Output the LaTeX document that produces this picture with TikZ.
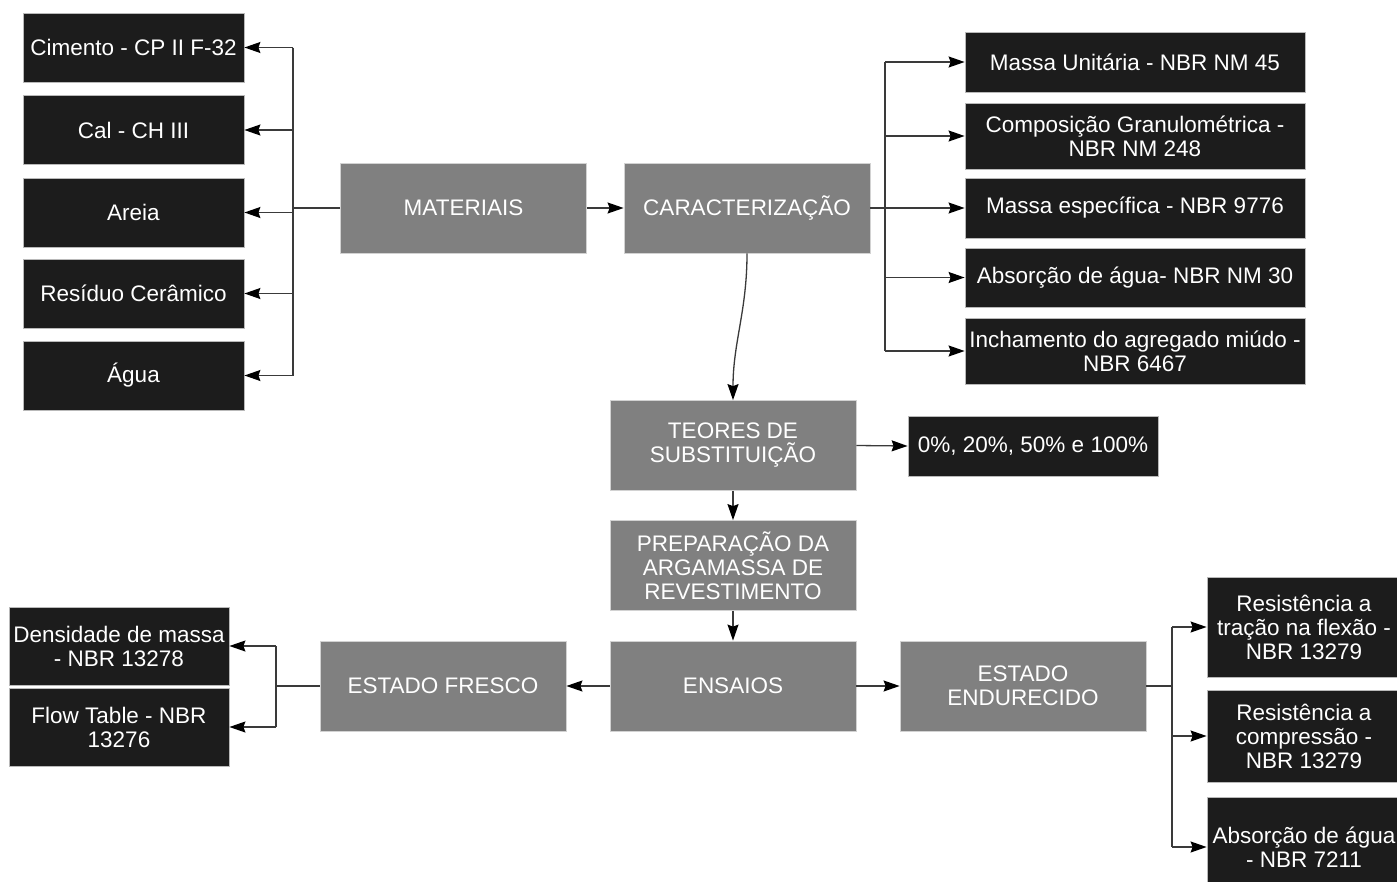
\documentclass[tikz,border=0pt]{standalone}
\usepackage{fontspec}
\setmainfont{Liberation Sans}
\usetikzlibrary{arrows.meta, positioning}
\definecolor{blkfill}{HTML}{1C1C1C}
\definecolor{gryfill}{HTML}{808080}
\definecolor{linecol}{HTML}{3A3A3A}
\begin{document}
\begin{tikzpicture}[
          x=1pt, y=-1pt,
          base/.style={rectangle, text=white, align=center, inner sep=0pt,
                       font=\fontsize{22.5}{24}\selectfont},
          blk/.style={base, fill=blkfill, draw=gray!55, line width=0.8pt},
          gry/.style={base, fill=gryfill, draw=gray!35, line width=0.8pt,
                      minimum width=246pt, minimum height=90pt},
          arr/.style={-{Stealth[length=16pt, width=11pt, inset=2pt, color=black]},
                      line width=1.3pt, draw=linecol},
          lin/.style={line width=1.3pt, draw=linecol},
        ]
          \useasboundingbox (0,0) rectangle (1397,881);
          \clip (0,0) rectangle (1397,881);

          % main column
          \node[gry] (mat) at (463.5,208) {MATERIAIS};
          \node[gry] (car) at (747,208) {CARACTERIZAÇÃO};
          \node[gry] (teo) at (733,445.5) {TEORES DE\\SUBSTITUIÇÃO};
          \node[gry] (pre) at (733,565.5) {PREPARAÇÃO DA\\ARGAMASSA DE\\REVESTIMENTO};
          \node[gry] (ens) at (733,686) {ENSAIOS};
          \node[gry] (fre) at (443,686) {ESTADO FRESCO};
          \node[gry] (end) at (1023,686) {ESTADO\\ENDURECIDO};

          % materiais
          \foreach \nm/\yy/\txt in {cim/47.5/Cimento - CP II F-32,
                                    cal/130/Cal - CH III,
                                    are/212.5/Areia,
                                    res/293.5/Resíduo Cerâmico,
                                    agu/375.5/Água}
            \node[blk, minimum width=221pt, minimum height=69pt] (\nm) at (133.5,\yy) {\txt};

          % caracterizacao
          \node[blk, minimum width=340pt, minimum height=60pt] (mun) at (1135,62) {Massa Unitária - NBR NM 45};
          \node[blk, minimum width=340pt, minimum height=66pt] (gra) at (1135,136) {Composição Granulométrica -\\NBR NM 248};
          \node[blk, minimum width=340pt, minimum height=60pt] (mes) at (1135,208) {Massa específica - NBR 9776};
          \node[blk, minimum width=340pt, minimum height=59pt] (abs) at (1135,277.5) {Absorção de água- NBR NM 30};
          \node[blk, minimum width=340pt, minimum height=66pt] (inc) at (1135,351) {Inchamento do agregado miúdo -\\NBR 6467};

          % teores
          \node[blk, minimum width=250pt, minimum height=60pt] (pct) at (1033,446) {0\%, 20\%, 50\% e 100\%};

          % estado fresco
          \node[blk, minimum width=220pt, minimum height=78pt] (den) at (119,646) {Densidade de massa\\- NBR 13278};
          \node[blk, minimum width=220pt, minimum height=78pt] (flo) at (119,727) {Flow Table - NBR\\13276};

          % estado endurecido
          \node[blk, minimum width=194pt, minimum height=100pt] (rtf) at (1304,627) {Resistência a\\tração na flexão -\\NBR 13279};
          \node[blk, minimum width=194pt, minimum height=92pt] (rco) at (1304,736) {Resistência a\\compressão -\\NBR 13279};
          \node[blk, minimum width=194pt, minimum height=100pt] (aba) at (1304,847) {Absorção de água\\- NBR 7211};

          % fork points
          \coordinate (jm) at (293,208);
          \coordinate (jc) at (885,208);
          \coordinate (jf) at (276,686);
          \coordinate (je) at (1172,686);

          \draw[lin] (mat.west) -- (jm);
          \draw[lin] (jm |- cim.east) -- (jm |- agu.east);
          \foreach \nm in {cim,cal,are,res,agu}
            \draw[arr] (jm |- \nm.east) -- (\nm.east);

          \draw[arr] (mat.east) -- (car.west);
          \draw[lin] (car.east) -- (jc);
          \draw[lin] (jc |- mun.west) -- (jc |- inc.west);
          \foreach \nm in {mun,gra,mes,abs,inc}
            \draw[arr] (jc |- \nm.west) -- (\nm.west);

          \draw[arr] (car.south) to[out=-90, in=90] (teo.north);
          \draw[arr] (teo.east) -- (pct.west);
          \draw[arr] (teo.south) -- (pre.north);
          \draw[arr] (pre.south) -- (ens.north);
          \draw[arr] (ens.west) -- (fre.east);
          \draw[arr] (ens.east) -- (end.west);

          \draw[lin] (fre.west) -- (jf);
          \draw[lin] (jf |- den.east) -- (jf |- flo.east);
          \foreach \nm in {den,flo}
            \draw[arr] (jf |- \nm.east) -- (\nm.east);

          \draw[lin] (end.east) -- (je);
          \draw[lin] (je |- rtf.west) -- (je |- aba.west);
          \foreach \nm in {rtf,rco,aba}
            \draw[arr] (je |- \nm.west) -- (\nm.west);
        \end{tikzpicture}
\end{document}
